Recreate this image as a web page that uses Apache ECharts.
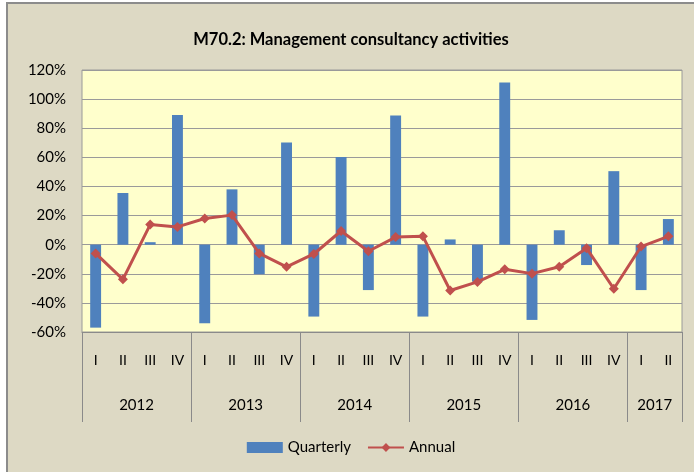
<!DOCTYPE html>
<html>
<head>
<meta charset="utf-8">
<script src="https://cdn.jsdelivr.net/npm/echarts@6/dist/echarts.min.js"></script>
<style>
  html, body { margin: 0; padding: 0; background: #fff; }
  #main { position: absolute; left: 6px; top: 2px; width: 688px; height: 470px;
          background: #DDD9C4; border-top: 2px solid #8c8c8c; border-left: 2px solid #8c8c8c;
          box-sizing: border-box; }
</style>
</head>
<body>
<div id="main"></div>
<script>
// periods on the x axis
var years = ['2012', '2013', '2014', '2015', '2016', '2017'];
var quartersPerYear = [4, 4, 4, 4, 4, 2];
var quarterNames = ['I', 'II', 'III', 'IV'];

// values in percent
var quarterly = [-57, 35.5, 1.7, 89,  -54, 38, -20.3, 70.2,  -49.4, 60.3, -31.2, 88.8,
                 -49.4, 3.6, -25.4, 111.4,  -51.7, 9.9, -14, 50.5,  -31.2, 17.6];
var annual = [-6, -23.8, 13.8, 12.2,  18, 20.3, -6, -15.2,  -6.4, 9.4, -4.5, 5.2,
              5.7, -31.5, -25.6, -16.9,  -19.9, -15.2, -2.4, -30.3,  -1.3, 5.7];

var yTicks = { min: -60, max: 120, step: 20 };

var quarterLabels = [];
var yearSlots = [];      // 23 boundary points, year name at the middle of each year
var yearEdges = {};
var pos = 0;
years.forEach(function (y, i) {
    yearEdges[pos] = true;
    for (var q = 0; q < quartersPerYear[i]; q++) quarterLabels.push(quarterNames[q]);
    pos += quartersPerYear[i];
});
yearEdges[pos] = true;
for (var k = 0; k <= pos; k++) yearSlots.push('');
pos = 0;
years.forEach(function (y, i) {
    yearSlots[pos + quartersPerYear[i] / 2] = y;
    pos += quartersPerYear[i];
});

var font = 'Lato, "Noto Sans", sans-serif';
var chart = echarts.init(document.getElementById('main'));

var option = {
    animation: false,
    textStyle: { fontFamily: font },
    title: {
        text: 'M70.2: Management consultancy activities',
        left: 'center',
        top: 22,
        textStyle: { fontFamily: font, fontSize: 16.5, fontWeight: 'bold', color: '#000' }
    },
    legend: {
        bottom: 12,
        left: 'center',
        itemGap: 16,
        itemWidth: 36,
        itemHeight: 11,
        textStyle: { fontFamily: font, fontSize: 15, color: '#000' },
        data: [
            { name: 'Quarterly', icon: 'rect' },
            { name: 'Annual' }
        ]
    },
    grid: {
        left: 74,
        right: 12,
        top: 66,
        bottom: 140,
        show: true,
        backgroundColor: '#FFFFCC',
        borderColor: '#9a9a9a',
        borderWidth: 1
    },
    xAxis: [{
        type: 'category',
        data: quarterLabels,
        position: 'bottom',
        axisLine: { onZero: false, lineStyle: { color: '#8a8a8a' } },
        axisTick: { show: false },
        axisLabel: { margin: 21, fontSize: 14, color: '#000', interval: 0 }
    }, {
        type: 'category',
        data: yearSlots,
        boundaryGap: false,
        position: 'bottom',
        axisLine: { show: false, onZero: false },
        axisTick: {
            show: true, length: 90,
            interval: function (idx) { return !!yearEdges[idx]; },
            lineStyle: { color: '#8a8a8a' }
        },
        axisLabel: {
            margin: 66, fontSize: 15, color: '#000',
            interval: function (idx, val) { return val !== ''; }
        }
    }],
    yAxis: {
        type: 'value',
        min: yTicks.min,
        max: yTicks.max,
        interval: yTicks.step,
        axisLine: { show: false },
        axisTick: { show: false },
        axisLabel: { formatter: '{value}%', margin: 16, fontSize: 15, color: '#000' },
        splitLine: { lineStyle: { color: '#9a9a9a', width: 1 } }
    },
    series: [{
        name: 'Quarterly',
        type: 'bar',
        data: quarterly,
        barWidth: '40%',
        itemStyle: { color: '#4F81BD' }
    }, {
        name: 'Annual',
        type: 'line',
        data: annual,
        symbol: 'diamond',
        symbolSize: 10,
        lineStyle: { color: '#C0504D', width: 3 },
        itemStyle: { color: '#C0504D' }
    }]
};

chart.setOption(option);
</script>
</body>
</html>
